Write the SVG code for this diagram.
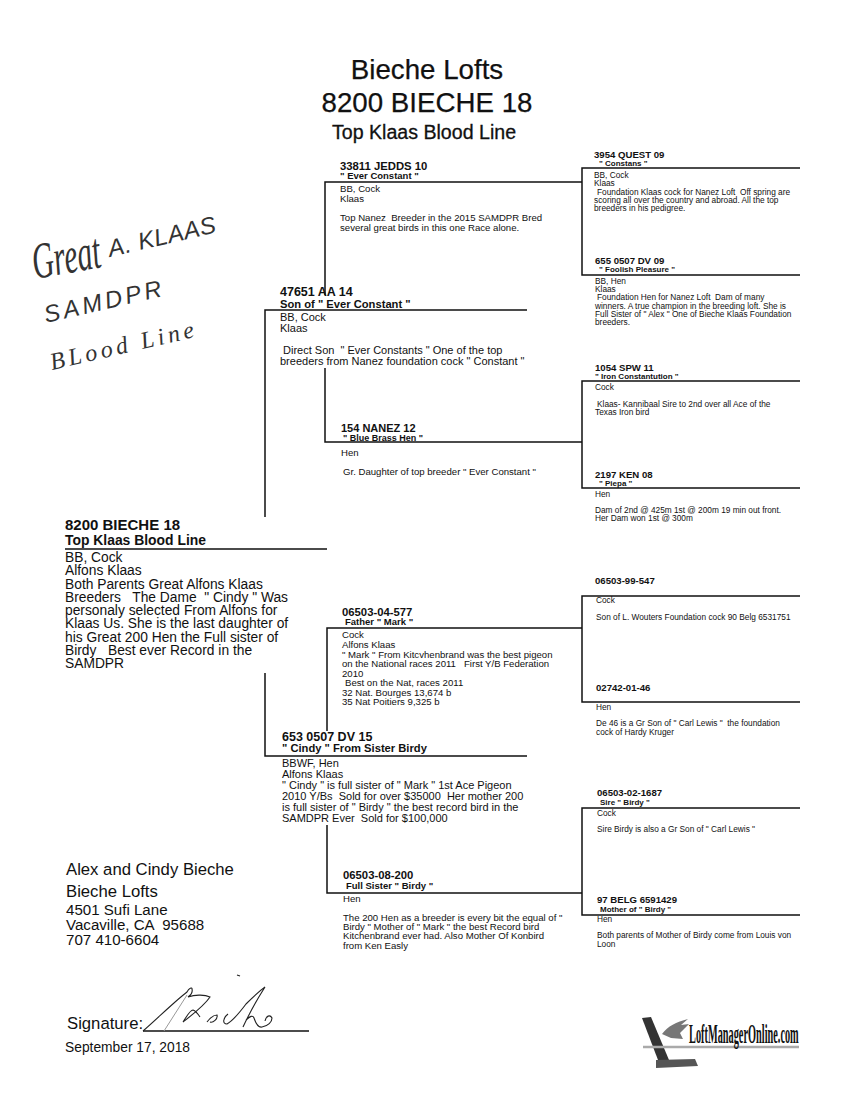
<svg xmlns="http://www.w3.org/2000/svg" width="850" height="1100" viewBox="0 0 850 1100">
<style>
text{font-family:"Liberation Sans",Arial,sans-serif;fill:#111;white-space:pre}
.t1{font-size:27.7px;text-anchor:middle;stroke:#111;stroke-width:.25}
.t3{font-size:19.6px;text-anchor:middle;stroke:#111;stroke-width:.3}
.h0{font-size:15px;font-weight:bold}
.h00{font-size:13.9px;font-weight:bold}
.b0{font-size:13.8px}
.h1{font-size:12.5px;font-weight:bold}
.h11{font-size:11.2px;font-weight:bold}
.b1{font-size:11px}
.h2{font-size:11.3px;font-weight:bold}
.s2{font-size:9.5px;font-weight:bold}
.b2{font-size:9.6px}
.h3{font-size:9.6px;font-weight:bold}
.s3{font-size:8px;font-weight:bold}
.b3{font-size:8.3px}
.a1{font-size:16.7px}
.a2{font-size:15.1px}
.hand{font-style:italic;font-size:24px;fill:#333}
.ln{stroke:#111;stroke-width:1.5;fill:none}
.sig{stroke:#222;stroke-width:1.1;fill:none}
</style>
<rect width="850" height="1100" fill="#fff"/>
<g id="title">
<text class="t1" x="427" y="79">Bieche Lofts</text>
<text class="t1" x="427" y="112">8200 BIECHE 18</text>
<text class="t3" x="424" y="139">Top Klaas Blood Line</text>
</g>
<g id="connectors">
<path class="ln" d="M65 549H327M265 517V310H527M265 673V756H527"/>
<path class="ln" d="M325 295V182H582M325 368V442H582"/>
<path class="ln" d="M327 731V628H582M327 825V893H582"/>
<path class="ln" d="M800 168H582V275H800M800 381H582V488H800"/>
<path class="ln" d="M800 596H582V702H800M800 808H582V915H800"/>
</g>
<g id="node-8200">
<text class="h0" x="65" y="530">8200 BIECHE 18</text>
<text class="h00" x="65" y="545">Top Klaas Blood Line</text>
<text class="b0" x="65" y="562">BB, Cock</text>
<text class="b0" x="65" y="575">Alfons Klaas</text>
<text class="b0" x="65" y="589">Both Parents Great Alfons Klaas</text>
<text class="b0" x="65" y="602">Breeders   The Dame  " Cindy " Was</text>
<text class="b0" x="65" y="615">personaly selected From Alfons for</text>
<text class="b0" x="65" y="628">Klaas Us. She is the last daughter of</text>
<text class="b0" x="65" y="642">his Great 200 Hen the Full sister of</text>
<text class="b0" x="65" y="655">Birdy   Best ever Record in the</text>
<text class="b0" x="65" y="668">SAMDPR</text>
</g>
<g id="node-47651">
<text class="h1" x="280" y="296">47651 AA 14</text>
<text class="h11" x="280" y="308">Son of " Ever Constant "</text>
<text class="b1" x="280" y="321">BB, Cock</text>
<text class="b1" x="280" y="332">Klaas</text>
<text class="b1" x="280" y="354"> Direct Son  " Ever Constants " One of the top</text>
<text class="b1" x="280" y="365">breeders from Nanez foundation cock " Constant "</text>
</g>
<g id="node-653">
<text class="h1" x="282" y="741">653 0507 DV 15</text>
<text class="h11" x="282" y="752">" Cindy " From Sister Birdy</text>
<text class="b1" x="282" y="767">BBWF, Hen</text>
<text class="b1" x="282" y="778">Alfons Klaas</text>
<text class="b1" x="282" y="789">" Cindy " is full sister of " Mark " 1st Ace Pigeon</text>
<text class="b1" x="282" y="800">2010 Y/Bs  Sold for over $35000  Her mother 200</text>
<text class="b1" x="282" y="811">is full sister of " Birdy " the best record bird in the</text>
<text class="b1" x="282" y="822">SAMDPR Ever  Sold for $100,000</text>
</g>
<g id="node-33811">
<text class="h2" x="340" y="170">33811 JEDDS 10</text>
<text class="s2" x="340" y="179">" Ever Constant "</text>
<text class="b2" x="340" y="192">BB, Cock</text>
<text class="b2" x="340" y="202">Klaas</text>
<text class="b2" x="340" y="221">Top Nanez  Breeder in the 2015 SAMDPR Bred</text>
<text class="b2" x="340" y="231">several great birds in this one Race alone.</text>
</g>
<g id="node-154">
<text class="h2" x="341" y="432" style="font-size:11px">154 NANEZ 12</text>
<text class="s2" x="343" y="441" style="font-size:9px">" Blue Brass Hen "</text>
<text class="b2" x="341" y="456">Hen</text>
<text class="b2" x="343" y="475">Gr. Daughter of top breeder " Ever Constant "</text>
</g>
<g id="node-06503-04-577">
<text class="h2" x="342" y="616">06503-04-577</text>
<text class="s2" x="345" y="625">Father " Mark "</text>
<text class="b2" x="342" y="638">Cock</text>
<text class="b2" x="342" y="648">Alfons Klaas</text>
<text class="b2" x="342" y="658">" Mark " From Kitcvhenbrand was the best pigeon</text>
<text class="b2" x="342" y="667">on the National races 2011   First Y/B Federation</text>
<text class="b2" x="342" y="677">2010</text>
<text class="b2" x="345" y="686">Best on the Nat, races 2011</text>
<text class="b2" x="342" y="696">32 Nat. Bourges 13,674 b</text>
<text class="b2" x="342" y="705">35 Nat Poitiers 9,325 b</text>
</g>
<g id="node-06503-08-200">
<text class="h2" x="343" y="879">06503-08-200</text>
<text class="s2" x="346" y="889">Full Sister " Birdy "</text>
<text class="b2" x="343" y="902">Hen</text>
<text class="b2" x="343" y="921">The 200 Hen as a breeder is every bit the equal of "</text>
<text class="b2" x="343" y="930">Birdy " Mother of " Mark " the best Record bird</text>
<text class="b2" x="343" y="939">Kitchenbrand ever had. Also Mother Of Konbird</text>
<text class="b2" x="343" y="949">from Ken Easly</text>
</g>
<g id="node-3954">
<text class="h3" x="594" y="158">3954 QUEST 09</text>
<text class="s3" x="599" y="166">" Constans "</text>
<text class="b3" x="594" y="178">BB, Cock</text>
<text class="b3" x="594" y="186">Klaas</text>
<text class="b3" x="597" y="195">Foundation Klaas cock for Nanez Loft  Off spring are</text>
<text class="b3" x="594" y="203">scoring all over the country and abroad. All the top</text>
<text class="b3" x="594" y="211">breeders in his pedigree.</text>
</g>
<g id="node-655">
<text class="h3" x="595" y="264">655 0507 DV 09</text>
<text class="s3" x="599" y="272">" Foolish Pleasure "</text>
<text class="b3" x="595" y="284">BB, Hen</text>
<text class="b3" x="595" y="292">Klaas</text>
<text class="b3" x="597" y="300">Foundation Hen for Nanez Loft  Dam of many</text>
<text class="b3" x="595" y="309">winners. A true champion in the breeding loft. She is</text>
<text class="b3" x="595" y="317">Full Sister of " Alex " One of Bieche Klaas Foundation</text>
<text class="b3" x="595" y="325">breeders.</text>
</g>
<g id="node-1054">
<text class="h3" x="595" y="371">1054 SPW 11</text>
<text class="s3" x="595" y="379">" Iron Constantution "</text>
<text class="b3" x="595" y="390">Cock</text>
<text class="b3" x="597" y="407">Klaas- Kannibaal Sire to 2nd over all Ace of the</text>
<text class="b3" x="595" y="415">Texas Iron bird</text>
</g>
<g id="node-2197">
<text class="h3" x="595" y="478">2197 KEN 08</text>
<text class="s3" x="599" y="486">" Piepa "</text>
<text class="b3" x="595" y="497">Hen</text>
<text class="b3" x="595" y="513">Dam of 2nd @ 425m 1st @ 200m 19 min out front.</text>
<text class="b3" x="595" y="521">Her Dam won 1st @ 300m</text>
</g>
<g id="node-06503-99-547">
<text class="h3" x="595" y="584">06503-99-547</text>
<text class="b3" x="596" y="603">Cock</text>
<text class="b3" x="596" y="620">Son of L. Wouters Foundation cock 90 Belg 6531751</text>
</g>
<g id="node-02742">
<text class="h3" x="596" y="691">02742-01-46</text>
<text class="b3" x="596" y="710">Hen</text>
<text class="b3" x="596" y="726">De 46 is a Gr Son of " Carl Lewis "  the foundation</text>
<text class="b3" x="596" y="735">cock of Hardy Kruger</text>
</g>
<g id="node-06503-02-1687">
<text class="h3" x="597" y="796">06503-02-1687</text>
<text class="s3" x="600" y="805">Sire " Birdy "</text>
<text class="b3" x="597" y="816">Cock</text>
<text class="b3" x="597" y="832">Sire Birdy is also a Gr Son of " Carl Lewis "</text>
</g>
<g id="node-97">
<text class="h3" x="597" y="903">97 BELG 6591429</text>
<text class="s3" x="600" y="912">Mother of " Birdy "</text>
<text class="b3" x="597" y="922">Hen</text>
<text class="b3" x="597" y="938">Both parents of Mother of Birdy come from Louis von</text>
<text class="b3" x="597" y="947">Loon</text>
</g>
<g id="address">
<text class="a1" x="66" y="875">Alex and Cindy Bieche</text>
<text class="a1" x="66" y="897">Bieche Lofts</text>
<text class="a2" x="66" y="915">4501 Sufi Lane</text>
<text class="a2" x="66" y="930">Vacaville, CA  95688</text>
<text class="a2" x="66" y="945">707 410-6604</text>
<text class="a1" x="67" y="1029">Signature:</text>
<text style="font-size:13.8px" x="65" y="1052">September 17, 2018</text>
</g>
<g id="signature">
<path class="ln" d="M143 1031H309"/>
<path class="sig" d="M143 1031C158 1018 174 1002 187 992C189 988 192 987 192 989C193 993 191 995 188 997C194 995 204 994 210 997C204 1006 192 1015 183 1022C187 1016 190 1010 193 1010C196 1011 198 1014 200 1017M207 1022C210 1018 214 1015 217 1015C218 1019 213 1023 210 1022M228 1014C223 1018 222 1024 227 1024C234 1020 240 1012 246 1004C252 998 258 992 265 987C258 998 250 1012 243 1027M246 1020C250 1016 253 1015 254 1018C256 1024 258 1028 262 1027C268 1026 272 1022 272 1018C270 1014 266 1016 265 1021"/>
<path d="M187 995L164 1031" stroke="#999" stroke-width="1" fill="none"/>
<path class="sig" d="M237 975l3 1"/>
</g>
<g id="handwriting">
<text class="hand" transform="translate(35 279) rotate(-10) scale(1 1.7)" style="font-size:30px;font-family:'Liberation Serif',serif">Great</text>
<text class="hand" x="110" y="257" transform="rotate(-13 110 257)" textLength="110" lengthAdjust="spacing">A. KLAAS</text>
<text class="hand" x="46" y="323" transform="rotate(-13 46 323)" textLength="120" lengthAdjust="spacing">SAMDPR</text>
<text class="hand" x="52" y="370" transform="rotate(-13 52 370)" textLength="147" lengthAdjust="spacing" style="font-family:'Liberation Serif',serif">BLood Line</text>
</g>
<g id="logo">
<path d="M642 1018l9-1 18 43h-11z" fill="#333"/>
<path d="M662 1034c6-8 14-12 26-15l-7 6 8-1-9 9 3 6-12-1z" fill="#777"/>
<path d="M656 1060l39-1 3 7-42 2z" fill="#555"/>
<path d="M643 1047H799" stroke="#aaa" stroke-width="2.5"/>
<text transform="translate(689 1043) scale(.43 1.1)" style="font-family:'Liberation Serif',serif;font-size:24px;font-weight:bold">LoftManagerOnline.com</text>
</g>
</svg>
